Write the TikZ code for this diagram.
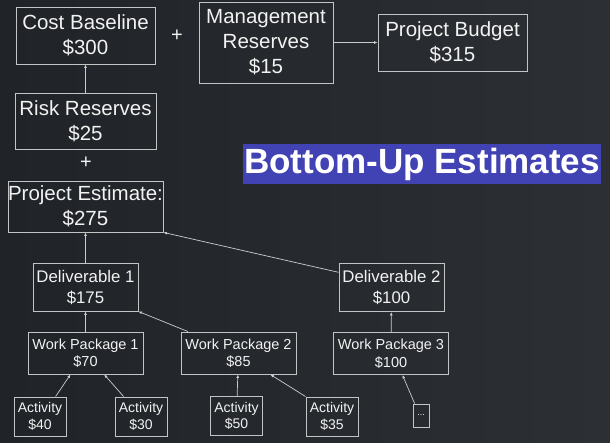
\documentclass[tikz,border=0pt]{standalone}
\usepackage{fontspec}
\setmainfont{Liberation Sans}
\usetikzlibrary{positioning,calc,arrows.meta}
\definecolor{bgdark}{HTML}{202327}
\definecolor{bglight}{HTML}{2C2F34}
\definecolor{edgegray}{HTML}{C4C4C4}
\definecolor{txtwhite}{HTML}{F2F2F2}
\definecolor{bannerblue}{HTML}{4142B3}
\tikzset{bigbox/.style={draw=edgegray,line width=0.9pt,text=txtwhite,align=center,inner sep=0pt,font=\fontsize{20.5}{25}\selectfont}}
\tikzset{midbox/.style={draw=edgegray,line width=0.9pt,text=txtwhite,align=center,inner sep=0pt,minimum width=105pt,minimum height=48pt,font=\fontsize{16.8}{21}\selectfont}}
\tikzset{wpbox/.style={draw=edgegray,line width=0.9pt,text=txtwhite,align=center,inner sep=0pt,minimum width=115pt,minimum height=42pt,font=\fontsize{14.5}{17.5}\selectfont}}
\tikzset{actbox/.style={draw=edgegray,line width=0.9pt,text=txtwhite,align=center,inner sep=0pt,minimum width=52pt,minimum height=39pt,font=\fontsize{14}{16.5}\selectfont}}
\tikzset{>={Latex[length=3.5pt,width=3pt]}}
\tikzset{link/.style={->,draw=edgegray!85,line width=0.7pt}}
\begin{document}
\begin{tikzpicture}[x=1pt,y=-1pt]
	\shade[left color=bgdark,right color=bglight] (0,0) rectangle (610,442);
	\useasboundingbox (0,0) rectangle (610,442);

	% top row
	\node[bigbox,minimum width=139pt,minimum height=57pt] (cb) at (85.5,35.5) {Cost Baseline\\\$300};
	\node[bigbox,minimum width=134pt,minimum height=81pt] (mr) at (266,42.5) {Management\\Reserves\\\$15};
	\node[bigbox,minimum width=149pt,minimum height=57pt] (pb) at (452.5,42.5) {Project Budget\\\$315};
	\node[text=txtwhite,font=\fontsize{20}{20}\selectfont] (plus1) at (177,36) {+};

	\node[bigbox,minimum width=141pt,minimum height=56pt] (rr) at (85.5,121) {Risk Reserves\\\$25};
	\node[text=txtwhite,font=\fontsize{20}{20}\selectfont] (plus2) at (86,163) {+};
	\node[bigbox,minimum width=155pt,minimum height=51pt] (pe) at (85.5,206.5) {Project Estimate:\\\$275};

	\node[fill=bannerblue,text=white,inner sep=0pt,minimum width=358pt,minimum height=40pt,font=\fontsize{35}{35}\selectfont\bfseries] (title) at (422,164) {Bottom-Up Estimates};

	% deliverables and work packages
	\node[midbox] (d1) at (85.5,287) {Deliverable 1\\\$175};
	\node[midbox] (d2) at (391.5,287.5) {Deliverable 2\\\$100};
	\node[wpbox] (wp1) at (85.5,353) {Work Package 1\\\$70};
	\node[wpbox] (wp2) at (238.5,353) {Work Package 2\\\$85};
	\node[wpbox] (wp3) at (391,353.5) {Work Package 3\\\$100};

	% activities
	\node[actbox] (a1) at (40,416.5) {Activity\\\$40};
	\node[actbox] (a2) at (141,416.5) {Activity\\\$30};
	\node[actbox] (a3) at (236.5,416) {Activity\\\$50};
	\node[actbox] (a4) at (332,416.5) {Activity\\\$35};
	\node[draw=edgegray,line width=0.9pt,text=txtwhite,inner sep=0pt,minimum width=16pt,minimum height=23pt,font=\fontsize{9}{9}\selectfont] (dots) at (421,415.5) {...};

	\draw[link] (rr) -- (cb);
	\draw[link] (mr) -- (pb);
	\draw[link] (d1) -- (pe);
	\draw[link] (d2.164) -- (pe.south east);
	\draw[link] (wp1) -- (d1);
	\draw[link] (wp2.157) -- (d1.south east);
	\draw[link] (wp3) -- (d2);
	\draw[link] (a1.52) -- (wp1.235);
	\draw[link] (a2.131) -- (wp1.311);
	\draw[link] (a3) -- (wp2);
	\draw[link] (a4.north west) -- (wp2.326);
	\draw[link] (dots.118) -- (wp3.298);
\end{tikzpicture}
\end{document}
